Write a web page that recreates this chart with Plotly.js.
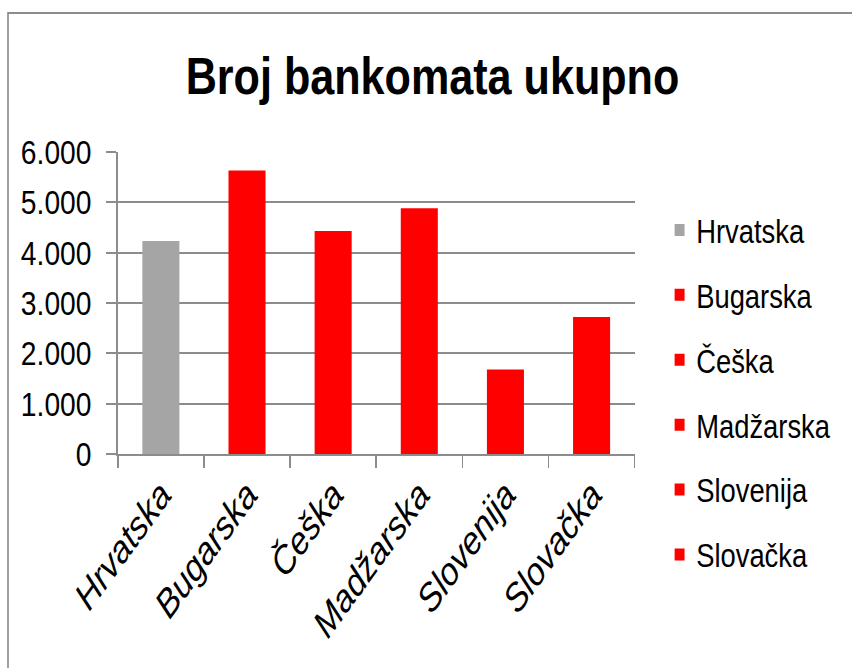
<!DOCTYPE html>
<html>
<head>
<meta charset="utf-8">
<script src="https://cdn.plot.ly/plotly-3.0.1.min.js"></script>
<style>
  html, body { margin: 0; padding: 0; background: #ffffff; overflow: hidden; }
  #wrap { width: 852px; height: 668px; overflow: hidden; position: relative; }
  /* the reference chart is horizontally condensed (narrow lettering); reproduce that */
  #chart { width: 1027px; height: 668px; transform: scaleX(0.8296); transform-origin: 0 0; }
</style>
</head>
<body>
<div id="wrap"><div id="chart"></div></div>
<script>
// ---- data ----
const countries = ["Hrvatska", "Bugarska", "Češka", "Madžarska", "Slovenija", "Slovačka"];
const atmCounts = [4230, 5630, 4430, 4880, 1680, 2720];
const barColors = ["#A5A5A5", "#FF0000", "#FF0000", "#FF0000", "#FF0000", "#FF0000"];
const yTickValues = [0, 1000, 2000, 3000, 4000, 5000, 6000];
const chartTitle = "Broj bankomata ukupno";

// ---- layout geometry (screen px of the 852x668 picture -> layout px) ----
const K = 0.8296;
const W = 1027, H = 668;
const sx = p => p / K;
const M = { l: Math.round(sx(118)), r: W - Math.round(sx(635)), t: 152, b: 214, autoexpand: false };
const plotW = W - M.l - M.r, plotH = H - M.t - M.b;
const px2x = p => (sx(p) - M.l) / plotW;
const py2y = p => (H - M.b - p) / plotH;

const FONT = '"Liberation Sans", Arial, sans-serif';

const traces = countries.map((c, i) => ({
  type: 'bar',
  name: c,
  x: [c],
  y: [atmCounts[i]],
  legendgroup: 'g' + i,
  marker: { color: barColors[i] },
  hoverinfo: 'x+y'
}));

const layout = {
  width: W, height: H,
  margin: M,
  paper_bgcolor: '#ffffff',
  plot_bgcolor: '#ffffff',
  separators: ',.',
  barmode: 'overlay',
  bargap: 0.57,
  font: { family: FONT, color: '#000000', size: 33 },
  title: {
    text: '<b>' + chartTitle + '</b>',
    font: { family: FONT, size: 52, color: '#000000' },
    x: 432.5 / 852, xref: 'container', xanchor: 'center',
    y: 1 - 76 / H, yref: 'container', yanchor: 'middle'
  },
  xaxis: {
    type: 'category',
    categoryorder: 'array',
    categoryarray: countries,
    tickvals: countries,
    ticktext: countries.map(c => '<i>' + c + '</i>'),
    tickson: 'boundaries',
    ticks: 'outside', ticklen: 12, tickwidth: 2, tickcolor: '#8c8c8c',
    showline: true, linecolor: '#8c8c8c', linewidth: 2,
    showgrid: false,
    tickangle: -49,
    tickfont: { family: FONT, size: 39, color: '#000000' },
    fixedrange: true
  },
  yaxis: {
    range: [0, 6000],
    tickvals: yTickValues,
    tickformat: ',d',
    ticks: 'outside', ticklen: 12, tickwidth: 2, tickcolor: '#8c8c8c',
    showline: true, linecolor: '#8c8c8c', linewidth: 2,
    showgrid: true, gridcolor: '#8c8c8c', gridwidth: 2,
    zeroline: false,
    ticklabelstandoff: 11,
    tickfont: { family: FONT, size: 34, color: '#000000' },
    fixedrange: true
  },
  legend: {
    x: px2x(663), xanchor: 'left',
    y: py2y(202), yanchor: 'top',
    traceorder: 'grouped',
    tracegroupgap: 19,
    maxheight: 640,
    font: { family: FONT, size: 33, color: '#000000' },
    bgcolor: 'rgba(0,0,0,0)',
    itemclick: false, itemdoubleclick: false
  },
  showlegend: true,
  shapes: [{
    type: 'rect', xref: 'paper', yref: 'paper', layer: 'below',
    x0: px2x(8), x1: px2x(870),
    y0: py2y(H + 10), y1: py2y(13),
    line: { color: '#8c8c8c', width: 2 },
    fillcolor: 'rgba(0,0,0,0)'
  }]
};

Plotly.newPlot('chart', traces, layout, { displayModeBar: false });
</script>
</body>
</html>
